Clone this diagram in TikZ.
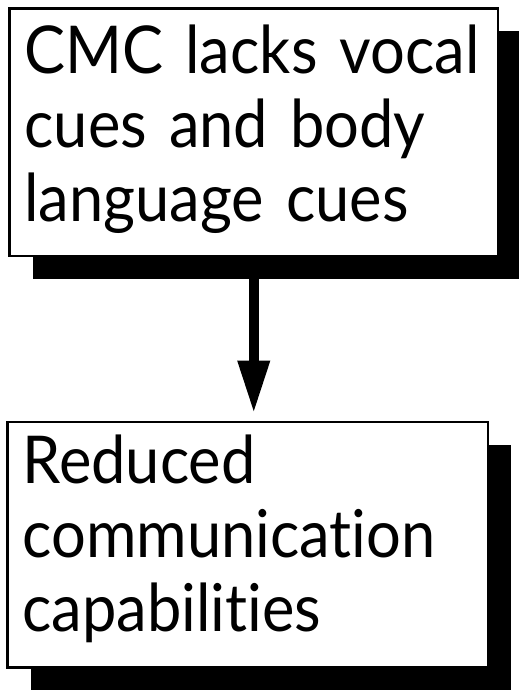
\documentclass[tikz,border=0pt]{standalone}
\usepackage{fontspec}
\setmainfont{Lato}[FakeStretch=0.93, Ligatures={NoCommon}]
\usetikzlibrary{positioning,arrows.meta,shadows}

\begin{document}
\begin{tikzpicture}[
	cuebox/.style={
		draw, fill=white, line width=2.5pt, rectangle,
		anchor=north west, align=left, inner xsep=15pt, inner ysep=0pt,
		text width=#1,
		drop shadow={shadow xshift=23pt, shadow yshift=-23pt, fill=black, opacity=1},
		font=\fontsize{66}{74}\selectfont,
	},
	thickarrow/.style={
		line width=10pt, -{Triangle[length=53pt, width=30pt]},
	},
]
	\useasboundingbox (0pt, 0pt) rectangle (519pt, -693pt);
	\node [cuebox=458.5pt, text height=65pt, text depth=182.5pt] (cues) at (8.25pt, -7.25pt)
		{CMC lacks vocal\\ cues and body\\ language cues};
	\node [cuebox=450.5pt, text height=61.5pt, text depth=184pt] (reduced) at (6.25pt, -420.5pt)
		{Reduced\\ communication\\ capabilities};
	\draw [thickarrow, shorten >=7pt] (cues.south) -- (cues.south |- reduced.north);
\end{tikzpicture}
\end{document}
